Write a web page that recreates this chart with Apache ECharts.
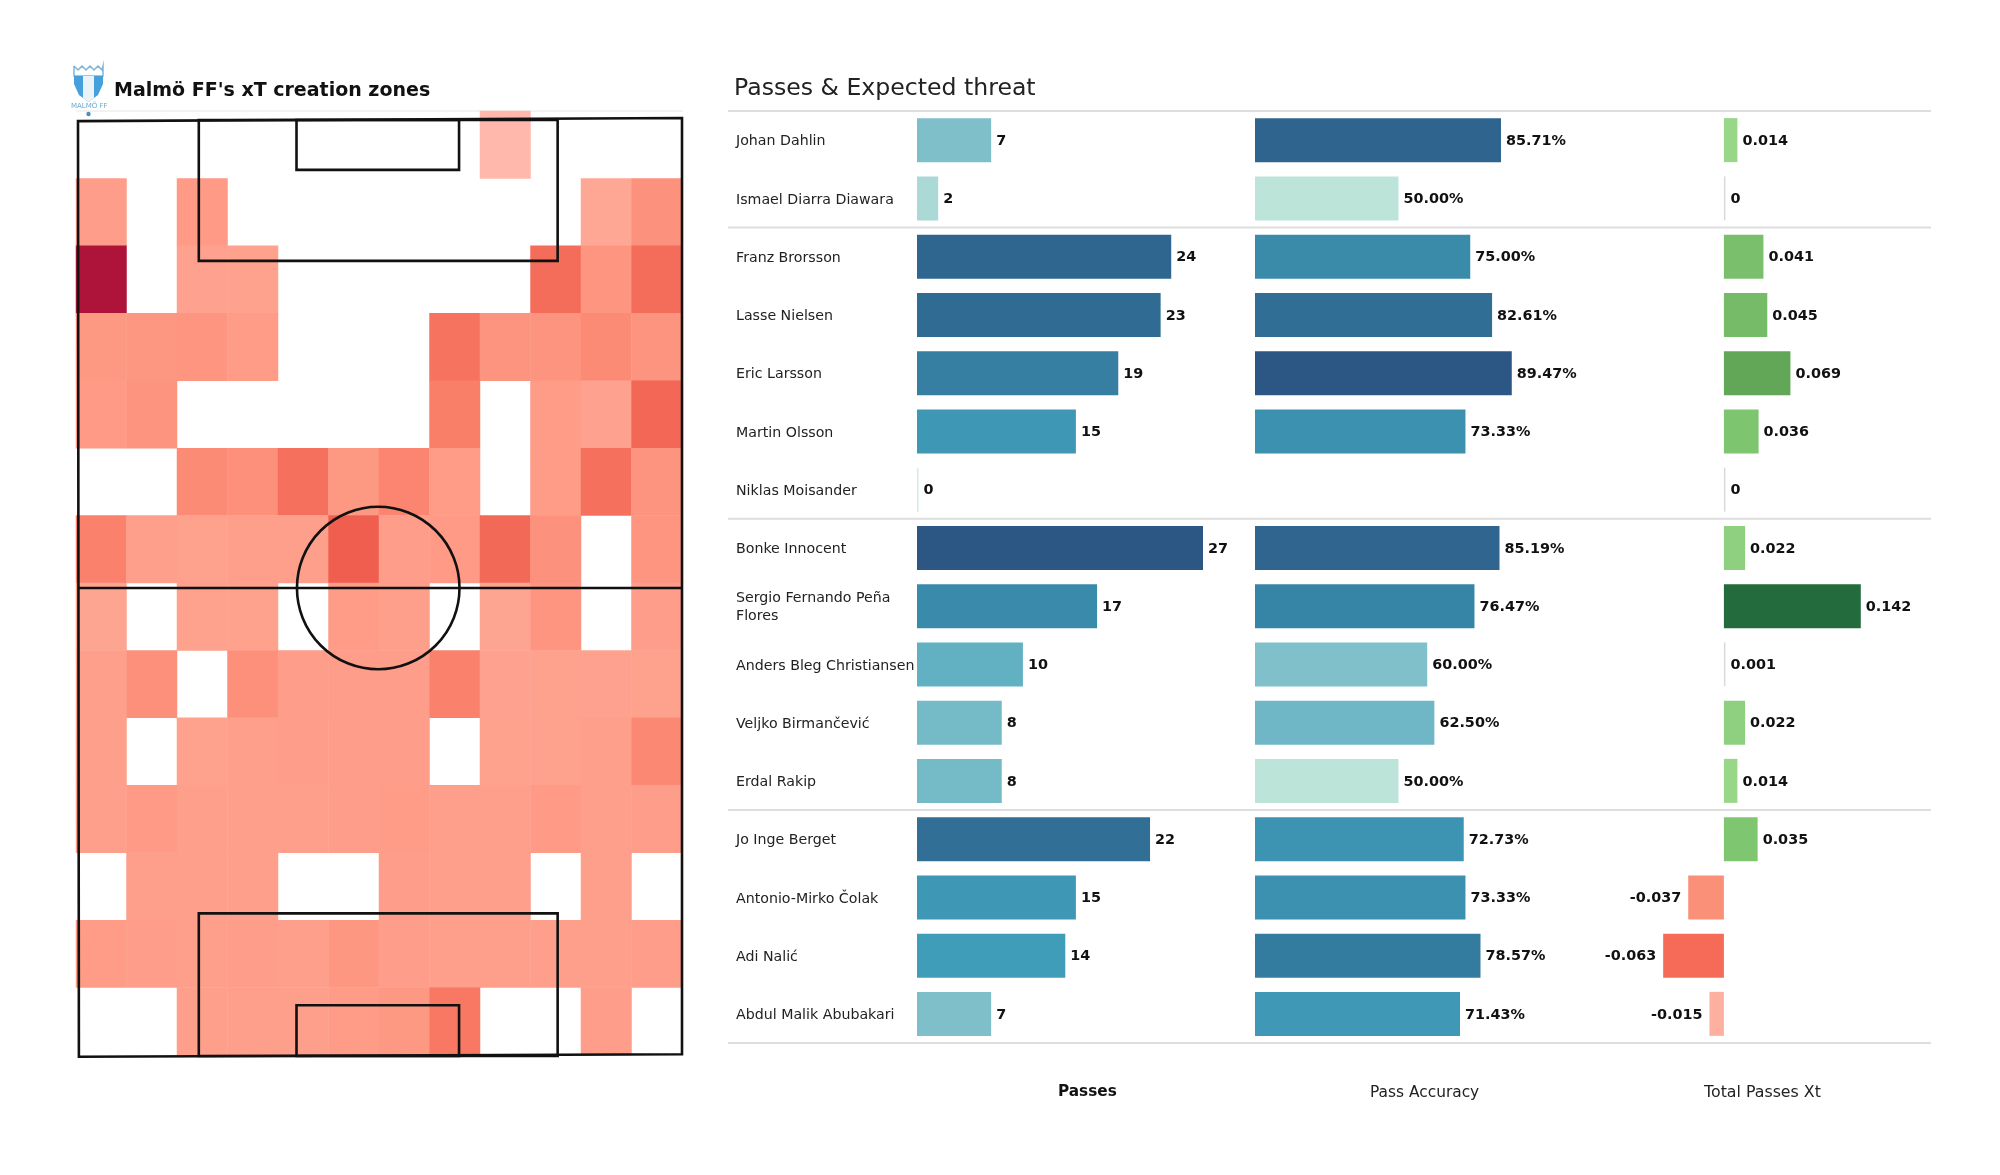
<!DOCTYPE html>
<html>
<head>
<meta charset="utf-8">
<style>html,body{margin:0;padding:0;background:#fff}#c{width:2000px;height:1175px}</style>
<script src="https://cdn.jsdelivr.net/npm/echarts@6/dist/echarts.min.js"></script>
</head>
<body>
<div id="c"></div>
<script>
const players = ['Johan Dahlin','Ismael Diarra Diawara','Franz Brorsson','Lasse Nielsen','Eric Larsson','Martin Olsson','Niklas Moisander','Bonke Innocent','Sergio Fernando Peña\nFlores','Anders Bleg Christiansen','Veljko Birmančević','Erdal Rakip','Jo Inge Berget','Antonio-Mirko Čolak','Adi Nalić','Abdul Malik Abubakari'];
const passes = [7,2,24,23,19,15,0,27,17,10,8,8,22,15,14,7];
const accuracy = [85.71,50,75,82.61,89.47,73.33,null,85.19,76.47,60,62.5,50,72.73,73.33,78.57,71.43];
const xThreat = [0.014,0,0.041,0.045,0.069,0.036,0,0.022,0.142,0.001,0.022,0.014,0.035,-0.037,-0.063,-0.015];
const groupBoundaries = [0,2,7,12,16];
const columnHeads = ['Passes','Pass Accuracy','Total Passes Xt'];

const heatRows = [
 [null,null,null,null,null,null,null,null,5,null,null,null],
 [25,null,28,null,null,null,null,null,null,null,18,35],
 [100,null,22,23,null,null,null,null,null,62,32,62],
 [30,31,32,27,null,null,null,58,33,33,40,33],
 [28,33,null,null,null,null,null,50,null,27,22,66],
 [null,null,40,36,60,30,45,27,null,27,60,33],
 [48,24,23,24,24,72,25,28,65,35,null,32],
 [20,null,23,23,null,27,24,null,20,32,null,26],
 [24,36,null,36,26,26,25,48,22,23,22,23],
 [24,null,23,24,25,25,25,null,23,23,24,43],
 [24,28,24,24,24,25,27,24,24,28,24,26],
 [null,24,24,24,null,null,25,24,24,null,24,null],
 [27,25,24,25,24,31,25,24,24,24,24,26],
 [null,null,24,24,24,27,30,55,null,null,26,null]
];
// pitch geometry in metres
const pitchOutline = [[[0,0.13],[68,-0.22],[68,104.8],[0.1,105.08]]];
const pitchRects = [[13.6,0,54,15.8],[24.6,0,42.9,5.6],[0,52.5,68,52.5],[13.6,89,54,105],[24.6,99.3,42.9,105]];
const centreCircle = [[33.8,52.5,9.15]];

const blueStops = [[0,'#bde4d9'],[.25,'#80c0ca'],[.5,'#41a0bb'],[.75,'#33789c'],[1,'#2c5785']];
const xtStops = [[-.063,'#f56b57'],[-.037,'#fa9078'],[-.015,'#fdb09f'],[0,'#d9d9d9'],[.0011,'#d9d9d9'],[.0014,'#a5dc95'],[.014,'#98d688'],[.022,'#8ed07f'],[.036,'#7ec570'],[.045,'#75bb68'],[.069,'#62a757'],[.142,'#236a3c']];
const hex = c => [1,3,5].map(i => parseInt(c.substr(i,2),16));
function scale(stops,v){
  if (v<=stops[0][0]) return stops[0][1];
  for (let i=1;i<stops.length;i++) if (v<=stops[i][0]) {
    const t=(v-stops[i-1][0])/(stops[i][0]-stops[i-1][0]), a=hex(stops[i-1][1]), b=hex(stops[i][1]);
    return 'rgb('+a.map((x,k)=>Math.round(x+(b[k]-x)*t)).join(',')+')';
  }
  return stops[stops.length-1][1];
}
const FONT='DejaVu Sans';
const PITCH_W=2.6;
const heatData=[];
heatRows.forEach((r,y)=>r.forEach((v,x)=>{ if(v!==null) heatData.push([x,y,v]); }));

const rowCats = players.map((_,i)=>i);
function yAx(idx){return {gridIndex:idx,type:'category',inverse:true,data:rowCats,show:false};}
function xAx(idx,min,max){return {gridIndex:idx,type:'value',min:min,max:max,show:false,splitLine:{show:false}};}
function barLabel(fmt){return {show:true,position:'right',distance:5,offset:[0,1],fontFamily:FONT,fontSize:14.4,fontWeight:'bold',color:'#111',formatter:fmt};}

const option={
 backgroundColor:'#fff',animation:false,
 title:[
  {text:"Malmö FF's xT creation zones",left:109,top:77,textStyle:{fontFamily:FONT,fontWeight:'bold',fontSize:19,color:'#111'}},
  {text:'Passes & Expected threat',left:729,top:72,textStyle:{fontFamily:FONT,fontWeight:'normal',fontSize:23.6,color:'#222'}}
 ],
 grid:[
  {left:76,top:111,width:606,height:944},
  {left:78,top:120,width:604,height:936},
  {left:917,top:111,width:286,height:932},
  {left:1255,top:111,width:287,height:932},
  {left:1627.5,top:111,width:241,height:932},
  {left:728,top:111,width:1203,height:932},
  {left:917,top:112.5,width:286,height:932}
 ],
 xAxis:[
  {gridIndex:0,type:'category',data:heatRows[0].map((_,i)=>i),show:false},
  xAx(1,0,68),xAx(2,0,27),xAx(3,0,100),xAx(4,-0.1,0.15),xAx(5,0,1),xAx(6,0,27)
 ],
 yAxis:[
  {gridIndex:0,type:'category',inverse:true,data:heatRows.map((_,i)=>i),show:false},
  {gridIndex:1,type:'value',min:0,max:105,inverse:true,show:false,splitLine:{show:false}},
  yAx(2),yAx(3),yAx(4),
  {gridIndex:5,type:'value',min:0,max:16,inverse:true,show:false,splitLine:{show:false}},
  {gridIndex:6,type:'category',inverse:true,data:players,axisLine:{show:false},axisTick:{show:false},splitLine:{show:false},
   axisLabel:{align:'left',margin:181,fontFamily:FONT,fontSize:14.2,color:'#222',lineHeight:18}}
 ],
 visualMap:{show:false,seriesIndex:0,dimension:2,min:0,max:100,inRange:{color:['#ffbfb3','#fe9e8a','#fa7f69','#ee5a4b','#ae1439']}},
 series:[
  {type:'heatmap',xAxisIndex:0,yAxisIndex:0,data:heatData,itemStyle:{borderWidth:0}},
  {type:'custom',xAxisIndex:1,yAxisIndex:1,data:pitchRects,clip:false,z:5,encode:{x:[0,2],y:[1,3]},
   renderItem:(p,api)=>{
     const a=api.coord([api.value(0),api.value(1)]),b=api.coord([api.value(2),api.value(3)]);
     return {type:'rect',shape:{x:a[0],y:a[1],width:b[0]-a[0],height:b[1]-a[1]},style:{fill:'none',stroke:'#111',lineWidth:PITCH_W}};
   }},
  {type:'custom',xAxisIndex:1,yAxisIndex:1,data:[0],clip:false,z:5,
   renderItem:(p,api)=>({type:'polygon',shape:{points:pitchOutline[0].map(c=>api.coord(c))},style:{fill:'none',stroke:'#111',lineWidth:PITCH_W}})},
  {type:'custom',xAxisIndex:1,yAxisIndex:1,data:centreCircle,clip:false,z:5,encode:{x:0,y:1},
   renderItem:(p,api)=>{
     const c=api.coord([api.value(0),api.value(1)]),r=api.size([api.value(2),0])[0];
     return {type:'circle',shape:{cx:c[0],cy:c[1],r:r},style:{fill:'none',stroke:'#111',lineWidth:PITCH_W}};
   }},
  {type:'bar',xAxisIndex:2,yAxisIndex:2,data:passes,barWidth:44,barMinHeight:1.5,
   itemStyle:{color:p=>p.value===0?'#d5e8ea':scale(blueStops,p.value/27)},label:barLabel(p=>p.value)},
  {type:'bar',xAxisIndex:3,yAxisIndex:3,data:accuracy,barWidth:44,
   itemStyle:{color:p=>scale(blueStops,(p.value-50)/39.47)},label:barLabel(p=>p.value===null?'':p.value.toFixed(2)+'%')},
  {type:'bar',xAxisIndex:4,yAxisIndex:4,data:xThreat.map(v=>({value:v,label:{position:v<0?'left':'right',distance:v<0?7:5}})),barWidth:44,barMinHeight:1.5,
   itemStyle:{color:p=>scale(xtStops,p.value)},label:barLabel(p=>String(p.value))},
  {type:'custom',xAxisIndex:5,yAxisIndex:5,data:groupBoundaries.map(v=>[v]),z:1,encode:{y:0},
   renderItem:(p,api)=>{
     const a=api.coord([0,api.value(0)]),b=api.coord([1,api.value(0)]);
     return {type:'line',shape:{x1:a[0],y1:a[1],x2:b[0],y2:b[1]},style:{stroke:'#dedede',lineWidth:2}};
   }}
 ],
 graphic:[
  {type:'text',left:1058,top:1085,style:{text:columnHeads[0],font:'bold 15.3px "DejaVu Sans"',fill:'#111'}},
  {type:'text',left:1370,top:1085,style:{text:columnHeads[1],font:'15.4px "DejaVu Sans"',fill:'#222'}},
  {type:'text',left:1704,top:1085,style:{text:columnHeads[2],font:'15.8px "DejaVu Sans"',fill:'#222'}},
  {type:'line',shape:{x1:76,y1:111,x2:683,y2:111},style:{stroke:'#e6e6e6',lineWidth:1},z:0},
  {type:'polyline',shape:{points:[[74,66],[78,70],[82,66],[86,70],[90,66],[94,70],[98,66],[102,70],[103,66],[103,76],[74,76],[74,66]]},style:{fill:'#fff',stroke:'#7fb5d8',lineWidth:1.5}},
  {type:'polygon',shape:{points:[[74,76],[103,76],[103,84],[98,95],[88.5,102],[79,95],[74,84]]},style:{fill:'#45a0dc'}},
  {type:'polygon',shape:{points:[[83,76],[94,76],[94,98],[88.5,102],[83,98]]},style:{fill:'#eaf3f8'}},
  {type:'text',left:71,top:103,style:{text:'MALMÖ FF',font:'7px "DejaVu Sans"',fill:'#6aa9d2'}},
  {type:'circle',shape:{cx:88.5,cy:114,r:2.2},style:{fill:'#4d8fbc'}}
 ]
};
echarts.init(document.getElementById('c'),null,{renderer:'canvas'}).setOption(option);
</script>
</body>
</html>
